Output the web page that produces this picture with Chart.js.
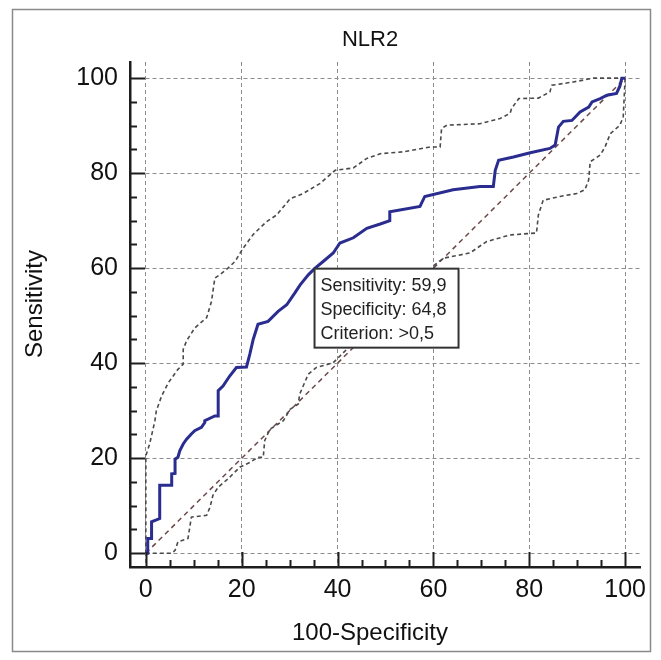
<!DOCTYPE html>
<html>
<head>
<meta charset="utf-8">
<script src="https://cdn.jsdelivr.net/npm/chart.js@4.4.1/dist/chart.umd.min.js"></script>
<style>
  html, body { margin: 0; padding: 0; background: #fff; }
  #wrap { width: 661px; height: 660px; }
</style>
</head>
<body>
<div id="wrap"><canvas id="roc" width="661" height="660"></canvas></div>
<script>
const FONT = '"Liberation Sans", Arial, sans-serif';

// ROC curve (100-Specificity, Sensitivity)
const rocX = [0, 0.4, 0.4, 1.2, 1.2, 2.2, 2.9, 2.9, 5.4, 5.4, 6.1, 6.1, 6.7, 7.1, 7.8, 8.5, 9.5, 10.2, 11.6, 12.3,
  12.3, 14.4, 15.1, 15.1, 16.1, 17.5, 18.9, 21.0, 21.7, 22.4, 23.4, 25.5, 27.6, 29.4, 31.1, 32.2, 33.9, 35.2, 37.0, 39.1,
  40.5, 43.3, 46.1, 48.9, 50.9, 50.9, 57.2, 58.2, 64.1, 69.7, 72.5, 72.9, 73.6, 76.7, 80.2, 84.3, 85.4, 86.1, 87.1, 88.9,
  90.6, 92.4, 93.1, 94.8, 96.2, 98.2, 98.9, 99.3, 100];
const rocY = [0, 0, 3.1, 3.1, 6.6, 7.0, 7.3, 14.3, 14.3, 16.7, 16.8, 19.8, 20.2, 21.6, 23.0, 24.0, 25.1, 25.8, 26.5, 27.5,
  27.9, 28.9, 28.9, 34.2, 35.2, 37.3, 39.1, 39.2, 41.9, 45.0, 48.2, 48.8, 50.9, 52.3, 54.8, 56.5, 58.6, 59.9, 61.4, 63.2,
  65.3, 66.4, 68.4, 69.3, 70.0, 71.9, 73.0, 75.1, 76.5, 77.2, 77.2, 80.6, 82.7, 83.4, 84.3, 85.2, 85.9, 89.7, 90.9, 91.1,
  92.9, 93.9, 95.0, 95.7, 96.4, 96.8, 98.3, 100, 100];

// upper 95% confidence bound
const upperX = [0, 0, 0.8, 1.9, 2.2, 3.3, 4.7, 6.7, 7.8, 7.8, 8.5, 10.2, 12.7, 13.7, 14.4, 15.4, 16.8, 18.6, 20.3, 22.4,
  25.2, 27.3, 30.1, 32.8, 36.3, 39.5, 43.3, 46.1, 48.9, 53.7, 59.3, 61.4, 61.7, 62.8, 69.7, 73.9, 76.0, 76.3, 77.8, 81.9,
  84.3, 84.7, 89.2, 93.4, 100];
const upperY = [0, 20.5, 23.0, 27.9, 30.0, 33.1, 35.9, 38.7, 39.8, 42.9, 44.7, 47.4, 49.6, 53.0, 57.9, 58.6, 59.7, 61.4, 64.2, 67.1,
  69.8, 71.2, 74.6, 75.7, 77.8, 80.6, 81.1, 83.1, 84.1, 84.5, 85.5, 85.5, 89.4, 90.1, 90.4, 91.5, 92.6, 93.6, 95.7, 95.8,
  97.1, 98.5, 99.2, 100, 100];

// lower 95% confidence bound
const lowerX = [0, 5.4, 6.1, 6.7, 8.8, 9.5, 12.7, 13.4, 14.0, 15.1, 17.2, 19.6, 21.7, 23.4, 24.5, 24.8, 25.9, 28.7, 30.1, 31.8,
  32.1, 33.9, 35.6, 39.1, 41.9, 48, 55, 58, 60, 62.1, 64.1, 67.6, 71.1, 76.0, 81.5, 81.9, 82.9, 86.4, 89.9, 91.6,
  92.4, 92.7, 94.8, 95.8, 96.9, 98.9, 99.6, 100];
const lowerY = [0, 0, 0.6, 2.4, 3.1, 7.6, 8.0, 9.7, 12.2, 13.9, 15.7, 18.1, 19.1, 20.2, 20.2, 23.7, 26.1, 27.9, 30.3, 31.4,
  33.5, 37.7, 39.1, 40.1, 42.9, 48.5, 54.5, 57.5, 60.5, 62.1, 62.5, 63.2, 65.6, 67.0, 67.4, 71.2, 74.3, 75.1, 75.7, 76.5,
  78.6, 82.4, 83.8, 85.5, 88.3, 90.1, 91.8, 100];

// reference diagonal
const diagX = [0, 100];
const diagY = [0, 100];

const tickValues = [0, 20, 40, 60, 80, 100];
const minorStep = 5;

// operating point shown in the box
const opSensitivity = 59.9;
const opSpecificity = 64.8;
const opCriterion = '>0,5';

const toPoints = (xs, ys) => xs.map((x, i) => ({ x: x, y: ys[i] }));

const decor = {
  id: 'decor',
  beforeDraw(chart) {
    const ctx = chart.ctx;
    ctx.save();
    ctx.fillStyle = '#fff';
    ctx.fillRect(0, 0, chart.width, chart.height);
    ctx.restore();
  },
  afterDraw(chart) {
    const ctx = chart.ctx;
    const xs = chart.scales.x;
    const ys = chart.scales.y;
    const area = chart.chartArea;

    // minor + major tick marks pointing inward
    ctx.save();
    ctx.strokeStyle = '#1e1e1e';
    ctx.lineWidth = 2;
    for (let v = 0; v <= 100; v += minorStep) {
      const len = v % 20 === 0 ? 15 : 7;
      const px = Math.round(xs.getPixelForValue(v)) + 0.5;
      ctx.beginPath();
      ctx.moveTo(px, area.bottom);
      ctx.lineTo(px, area.bottom - len);
      ctx.stroke();
      const py = Math.round(ys.getPixelForValue(v)) + 0.5;
      ctx.beginPath();
      ctx.moveTo(area.left, py);
      ctx.lineTo(area.left + len, py);
      ctx.stroke();
    }
    ctx.restore();

    // info box anchored at the operating point
    const bx = xs.getPixelForValue(100 - opSpecificity);
    const by = ys.getPixelForValue(opSensitivity);
    ctx.save();
    ctx.fillStyle = '#fff';
    ctx.fillRect(bx, by, 144, 79);
    ctx.strokeStyle = '#333';
    ctx.lineWidth = 2;
    ctx.strokeRect(bx, by, 144, 79);
    ctx.fillStyle = '#222';
    ctx.font = '18px ' + FONT;
    ctx.textBaseline = 'alphabetic';
    ctx.textAlign = 'left';
    ctx.fillText('Sensitivity: ' + opSensitivity.toFixed(1).replace('.', ','), bx + 6, by + 22);
    ctx.fillText('Specificity: ' + opSpecificity.toFixed(1).replace('.', ','), bx + 6, by + 46);
    ctx.fillText('Criterion: ' + opCriterion, bx + 6, by + 70);
    ctx.restore();

    // titles
    ctx.save();
    ctx.fillStyle = '#111';
    ctx.textAlign = 'center';
    ctx.textBaseline = 'middle';
    ctx.font = '22px ' + FONT;
    ctx.fillText('NLR2', 370, 40);
    ctx.font = '24px ' + FONT;
    ctx.fillText('100-Specificity', 370, 633);
    ctx.translate(35, 304);
    ctx.rotate(-Math.PI / 2);
    ctx.fillText('Sensitivity', 0, 0);
    ctx.restore();

    // outer frame
    ctx.save();
    ctx.strokeStyle = '#8a8a8a';
    ctx.lineWidth = 1.5;
    ctx.strokeRect(12.5, 9.5, 638, 642);
    ctx.restore();
  }
};

const axisCommon = {
  type: 'linear',
  afterBuildTicks: axis => { axis.ticks = tickValues.map(v => ({ value: v })); },
  grid: { color: '#8c8c8c', lineWidth: 1, drawTicks: false },
  border: { display: true, color: '#1e1e1e', width: 2.5, dash: [4, 3] },
  ticks: { color: '#111', font: { family: FONT, size: 25 } }
};

new Chart(document.getElementById('roc'), {
  type: 'scatter',
  data: {
    datasets: [
      {
        label: 'ROC',
        data: toPoints(rocX, rocY),
        showLine: true,
        borderColor: '#2a2d8f',
        borderWidth: 3,
        pointRadius: 0,
        tension: 0
      },
      {
        label: 'Upper CI',
        data: toPoints(upperX, upperY),
        showLine: true,
        borderColor: '#4a4a4a',
        borderWidth: 1.6,
        borderDash: [4, 3],
        pointRadius: 0
      },
      {
        label: 'Lower CI',
        data: toPoints(lowerX, lowerY),
        showLine: true,
        borderColor: '#4a4a4a',
        borderWidth: 1.6,
        borderDash: [4, 3],
        pointRadius: 0
      },
      {
        label: 'Diagonal',
        data: toPoints(diagX, diagY),
        showLine: true,
        borderColor: '#6e4848',
        borderWidth: 1.5,
        borderDash: [5, 4],
        pointRadius: 0
      }
    ]
  },
  options: {
    responsive: false,
    animation: false,
    layout: { padding: { top: 62, right: 21, left: 0, bottom: 0 } },
    plugins: {
      legend: { display: false },
      title: { display: false },
      tooltip: { enabled: false }
    },
    scales: {
      x: Object.assign({}, axisCommon, {
        position: 'bottom',
        min: -3.3,
        max: 103.1,
        afterFit: axis => { axis.height = 93; },
        ticks: Object.assign({}, axisCommon.ticks, { padding: 8, maxRotation: 0 })
      }),
      y: Object.assign({}, axisCommon, {
        position: 'left',
        min: -2.9,
        max: 103.4,
        afterFit: axis => { axis.width = 130; },
        ticks: Object.assign({}, axisCommon.ticks, { padding: 12 })
      })
    }
  },
  plugins: [decor]
});
</script>
</body>
</html>
